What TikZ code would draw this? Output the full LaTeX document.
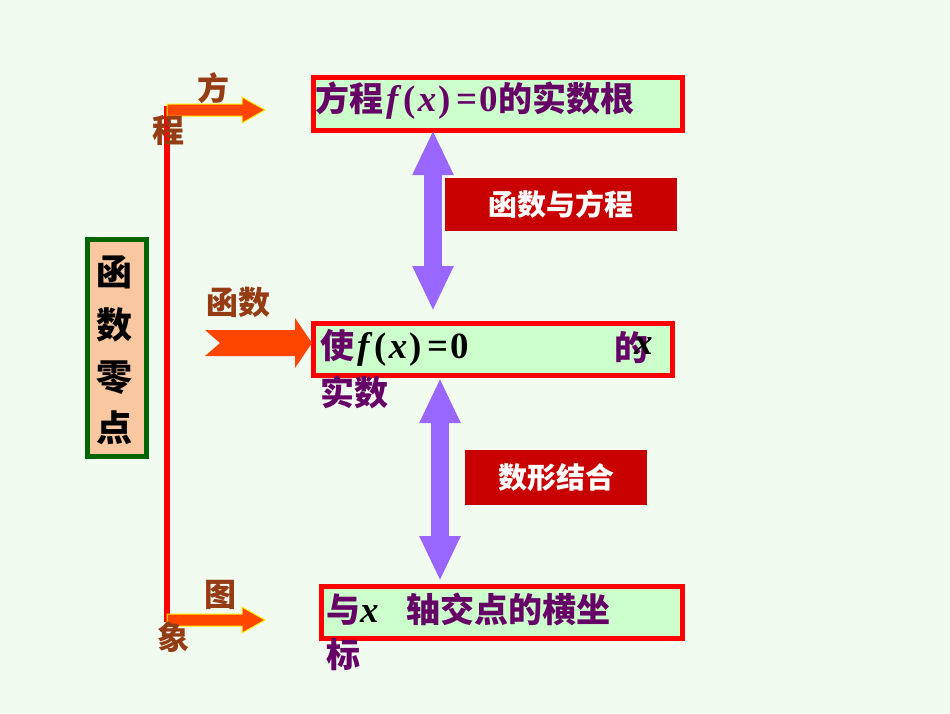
\documentclass[tikz,border=0pt]{standalone}
\usepackage{fontspec}
\setmainfont{Noto Sans CJK SC}
\newfontfamily\tnr{Liberation Serif}
\usetikzlibrary{arrows.meta}
\definecolor{bg}{RGB}{242,251,240}
\definecolor{peach}{RGB}{250,200,160}
\definecolor{dgreen}{RGB}{0,100,0}
\definecolor{lgreen}{RGB}{204,255,204}
\definecolor{purp}{RGB}{102,0,102}
\definecolor{brown}{RGB}{150,60,20}
\definecolor{orng}{RGB}{255,70,0}
\definecolor{lav}{RGB}{153,102,255}
\definecolor{dred}{RGB}{200,0,0}
\newcommand{\mth}[1]{{\tnr\bfseries\itshape\fontsize{37pt}{37pt}\selectfont #1}}
\newcommand{\mup}[1]{{\tnr\bfseries\fontsize{37pt}{37pt}\selectfont #1}}
\tikzset{
 fz/.style={font=\fontsize{#1pt}{#1pt}\selectfont\bfseries},
 boxr/.style={draw=red,line width=5pt,fill=lgreen,anchor=north west,inner sep=0pt},
 lbl/.style={fill=dred,anchor=north west,inner sep=0pt},
 brn/.style={text=brown,fz=32},
 purpt/.style={text=purp,fz=34,anchor=west,inner sep=0pt},
 biarrow/.style={lav,line width=18pt,{Triangle[width=38pt,length=45pt]}-{Triangle[width=38pt,length=45pt]}},
 oarrow/.style={fill=orng,draw=yellow,line width=1pt},
 wtxt/.style={text=white,fz=29}
}
\begin{document}
\begin{tikzpicture}[x=1pt,y=-1pt]
\fill[bg] (0,0) rectangle (950,713);
\useasboundingbox (0,0) rectangle (950,713);
\node[draw=dgreen,line width=5pt,fill=peach,minimum width=59pt,minimum height=217pt,anchor=north west] (lb) at (84.5,236.5) {};
\foreach \c/\y in {函/272,数/325,零/378,点/428} \node[fz=36,text=black] at (114,\y) {\c};
\coordinate (t) at (167,106);
\coordinate (b) at (167,622);
\draw[red,line width=6pt] (t) -- (b);
\draw[oarrow] (167,104) -- (242,104) -- (242,97) -- (265,110) -- (242,123) -- (242,116) -- (167,116) -- cycle;
\draw[oarrow] (167,614) -- (242,614) -- (242,607) -- (265,620) -- (242,633) -- (242,626) -- (167,626) -- cycle;
\node[brn] at (213,88) {方};
\node[brn] at (168,130) {程};
\node[brn] at (238,302) {函数};
\node[brn] at (220,595) {图};
\node[brn] at (173,637) {象};
\node[boxr,minimum width=369pt,minimum height=53pt] (b1) at (310.5,74.5) {};
\node[purpt] at (315,101) {方程\hspace{3pt}\mth{f}\hspace{5pt}\mup{(}\hspace{2pt}\mth{x}\hspace{2pt}\mup{)}\hspace{6pt}\mup{=}\hspace{2pt}\mup{0}的实数根};
\node[boxr,minimum width=359pt,minimum height=52pt] (b2) at (310.5,320.5) {};
\fill[orng] (205,330) -- (295,330) -- (295,318) -- (312,343) -- (295,368) -- (295,356) -- (205,356) -- (220,343) -- cycle;
\node[purpt] at (320,348) {使\hspace{3pt}\textcolor{black}{\mth{f}\hspace{5pt}\mup{(}\hspace{2pt}\mth{x}\hspace{2pt}\mup{)}\hspace{6pt}\mup{=}\hspace{2pt}\mup{0}}};
\node[purpt] at (614,348) {的};
\node[text=black,anchor=west,inner sep=0pt] at (634,346) {\mth{x}};
\node[purpt] at (320,392) {实数};
\node[boxr,minimum width=361pt,minimum height=52pt] (b3) at (318.5,583.5) {};
\node[purpt] at (326,609) {与\textcolor{black}{\mth{x}}\hspace{28pt}轴交点的横坐};
\node[purpt] at (326,655) {标};
\draw[biarrow] (433,130) -- (433,311);
\draw[biarrow] (440,378) -- (440,581);
\node[lbl,minimum width=232pt,minimum height=53pt] (l1) at (445,178) {};
\node[wtxt] at (l1.center) {函数与方程};
\node[lbl,minimum width=182pt,minimum height=55pt] (l2) at (465,450) {};
\node[wtxt] at (l2.center) {数形结合};
\end{tikzpicture}
\end{document}
